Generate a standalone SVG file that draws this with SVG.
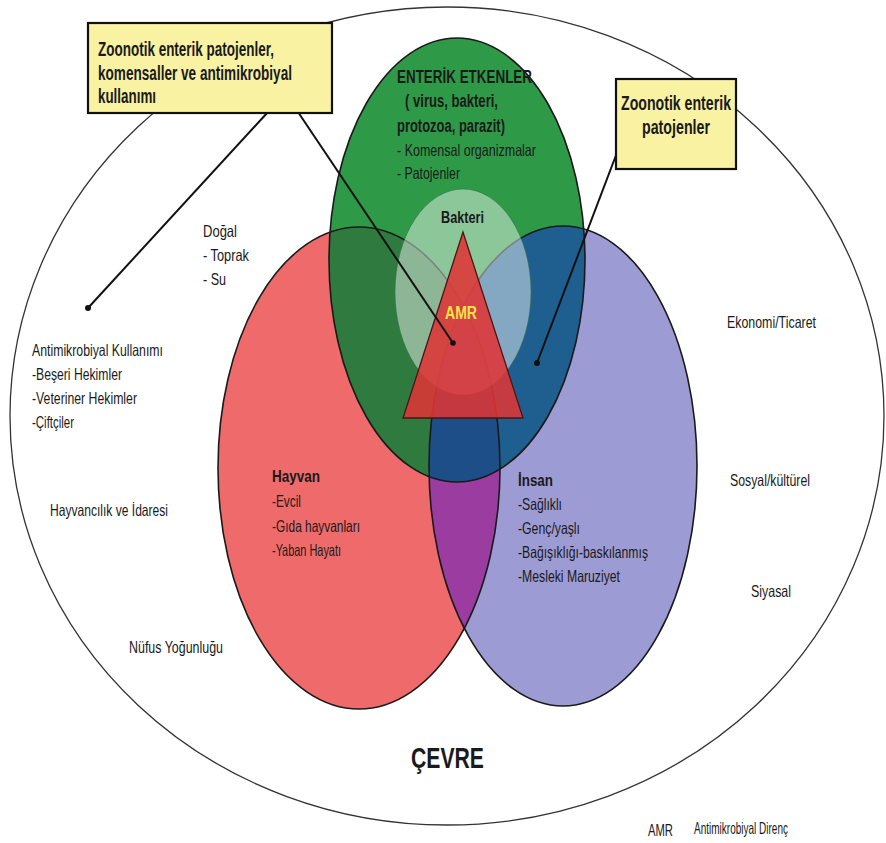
<svg xmlns="http://www.w3.org/2000/svg" width="886" height="843" viewBox="0 0 886 843">
<style>
text{font-family:"Liberation Sans",Arial,sans-serif;fill:#1a1a1a}
.r{font-size:16.5px}
.b{font-size:17px;font-weight:bold}
.cb{font-size:20px;font-weight:bold}
.edge{fill:none;stroke:#1a1a1a;stroke-width:1.6}
.box{fill:#f8f2a2;stroke:#111;stroke-width:2.2}
.con{stroke:#111;stroke-width:2;fill:none}
</style>
<defs>
<clipPath id="cRed"><ellipse cx="359" cy="468" rx="141" ry="241"/></clipPath>
<clipPath id="cBlue"><ellipse cx="563" cy="466" rx="134" ry="240"/></clipPath>
</defs>
<rect width="886" height="843" fill="#fff"/>
<g id="cevre">
<ellipse cx="447" cy="416" rx="437" ry="409" fill="#fff" stroke="#333" stroke-width="1.3"/>
<text x="411" y="768" style="font-size:29px;font-weight:bold" textLength="73" lengthAdjust="spacingAndGlyphs">ÇEVRE</text>
</g>
<g id="venn-fills">
<ellipse cx="359" cy="468" rx="141" ry="241" fill="#ef6a6a"/>
<ellipse cx="563" cy="466" rx="134" ry="240" fill="#9d9bd3"/>
<ellipse cx="563" cy="466" rx="134" ry="240" fill="#9b3ca0" clip-path="url(#cRed)"/>
<ellipse cx="457" cy="260" rx="128" ry="222" fill="#2e9a48"/>
<ellipse cx="457" cy="260" rx="128" ry="222" fill="#2f7b3f" clip-path="url(#cRed)"/>
<ellipse cx="457" cy="260" rx="128" ry="222" fill="#1f5f90" clip-path="url(#cBlue)"/>
<g clip-path="url(#cRed)"><ellipse cx="457" cy="260" rx="128" ry="222" fill="#1d4e88" clip-path="url(#cBlue)"/></g>
<ellipse class="edge" cx="359" cy="468" rx="141" ry="241"/>
<ellipse class="edge" cx="563" cy="466" rx="134" ry="240"/>
<ellipse class="edge" cx="457" cy="260" rx="128" ry="222"/>
</g>
<g id="bakteri">
<ellipse cx="463" cy="292" rx="68" ry="103" fill="#fff" fill-opacity="0.45" stroke="#2a6a40" stroke-opacity="0.5" stroke-width="1"/>
<text x="441" y="223" class="b" textLength="43" lengthAdjust="spacingAndGlyphs">Bakteri</text>
</g>
<g id="amr">
<polygon points="463,232 403,418 523,418" fill="#de3535" fill-opacity="0.88" stroke="#4a1515" stroke-width="1.3"/>
<text x="445" y="319" style="font-size:18px;font-weight:bold;fill:#f4e444" textLength="32" lengthAdjust="spacingAndGlyphs">AMR</text>
</g>
<g id="enterik">
<text x="397" y="83" style="font-size:18px;font-weight:bold" textLength="135" lengthAdjust="spacingAndGlyphs">ENTERİK ETKENLER</text>
<text x="405" y="107" style="font-size:18px;font-weight:bold" textLength="93" lengthAdjust="spacingAndGlyphs">( virus, bakteri,</text>
<text x="397" y="132" style="font-size:18px;font-weight:bold" textLength="108" lengthAdjust="spacingAndGlyphs">protozoa, parazit)</text>
<text x="397" y="156" class="r" textLength="139" lengthAdjust="spacingAndGlyphs">- Komensal organizmalar</text>
<text x="397" y="179" class="r" textLength="63" lengthAdjust="spacingAndGlyphs">- Patojenler</text>
</g>
<g id="hayvan">
<text x="272" y="482" class="b" textLength="48" lengthAdjust="spacingAndGlyphs">Hayvan</text>
<text x="272" y="507" class="r" textLength="29" lengthAdjust="spacingAndGlyphs">-Evcil</text>
<text x="272" y="532" class="r" textLength="88" lengthAdjust="spacingAndGlyphs">-Gıda hayvanları</text>
<text x="272" y="556" class="r" textLength="69" lengthAdjust="spacingAndGlyphs">-Yaban Hayatı</text>
</g>
<g id="insan">
<text x="518" y="486" class="b" textLength="35" lengthAdjust="spacingAndGlyphs">İnsan</text>
<text x="518" y="510" class="r" textLength="44" lengthAdjust="spacingAndGlyphs">-Sağlıklı</text>
<text x="518" y="534" class="r" textLength="62" lengthAdjust="spacingAndGlyphs">-Genç/yaşlı</text>
<text x="518" y="558" class="r" textLength="130" lengthAdjust="spacingAndGlyphs">-Bağışıklığı-baskılanmış</text>
<text x="518" y="582" class="r" textLength="102" lengthAdjust="spacingAndGlyphs">-Mesleki Maruziyet</text>
</g>
<g id="dogal">
<text x="203" y="237" class="r" textLength="34" lengthAdjust="spacingAndGlyphs">Doğal</text>
<text x="203" y="261" class="r" textLength="46" lengthAdjust="spacingAndGlyphs">- Toprak</text>
<text x="203" y="285" class="r" textLength="23" lengthAdjust="spacingAndGlyphs">- Su</text>
</g>
<g id="antimikrobiyal-kullanimi">
<text x="32" y="356" class="r" textLength="131" lengthAdjust="spacingAndGlyphs">Antimikrobiyal Kullanımı</text>
<text x="32" y="380" class="r" textLength="90" lengthAdjust="spacingAndGlyphs">-Beşeri Hekimler</text>
<text x="32" y="404" class="r" textLength="105" lengthAdjust="spacingAndGlyphs">-Veteriner Hekimler</text>
<text x="32" y="428" class="r" textLength="42" lengthAdjust="spacingAndGlyphs">-Çiftçiler</text>
</g>
<g id="hayvancilik"><text x="50" y="516" class="r" textLength="118" lengthAdjust="spacingAndGlyphs">Hayvancılık ve İdaresi</text></g>
<g id="nufus"><text x="129" y="653" class="r" textLength="94" lengthAdjust="spacingAndGlyphs">Nüfus Yoğunluğu</text></g>
<g id="ekonomi"><text x="727" y="328" class="r" textLength="89" lengthAdjust="spacingAndGlyphs">Ekonomi/Ticaret</text></g>
<g id="sosyal"><text x="730" y="486" class="r" textLength="80" lengthAdjust="spacingAndGlyphs">Sosyal/kültürel</text></g>
<g id="siyasal"><text x="751" y="597" class="r" textLength="40" lengthAdjust="spacingAndGlyphs">Siyasal</text></g>
<g id="legend">
<text x="648" y="836" class="r" textLength="25" lengthAdjust="spacingAndGlyphs">AMR</text>
<text x="694" y="834" class="r" textLength="94" lengthAdjust="spacingAndGlyphs">Antimikrobiyal Direnç</text>
</g>
<g id="connectors">
<line class="con" x1="298" y1="112" x2="453" y2="343"/>
<circle cx="453" cy="343" r="2.8" fill="#111"/>
<line class="con" x1="268" y1="112" x2="88" y2="308"/>
<circle cx="88" cy="308" r="3" fill="#111"/>
<line class="con" x1="618" y1="150" x2="537" y2="363"/>
<circle cx="537" cy="363" r="3" fill="#111"/>
</g>
<g id="callout-left">
<rect class="box" x="88" y="23" width="244" height="90"/>
<text x="98" y="56" class="cb" textLength="176" lengthAdjust="spacingAndGlyphs">Zoonotik enterik patojenler,</text>
<text x="98" y="80" class="cb" textLength="194" lengthAdjust="spacingAndGlyphs">komensaller ve antimikrobiyal</text>
<text x="98" y="103" class="cb" textLength="58" lengthAdjust="spacingAndGlyphs">kullanımı</text>
</g>
<g id="callout-right">
<rect class="box" x="616" y="79" width="120" height="90"/>
<text x="621" y="110" class="cb" textLength="110" lengthAdjust="spacingAndGlyphs">Zoonotik enterik</text>
<text x="642" y="134" class="cb" textLength="68" lengthAdjust="spacingAndGlyphs">patojenler</text>
</g>
</svg>
